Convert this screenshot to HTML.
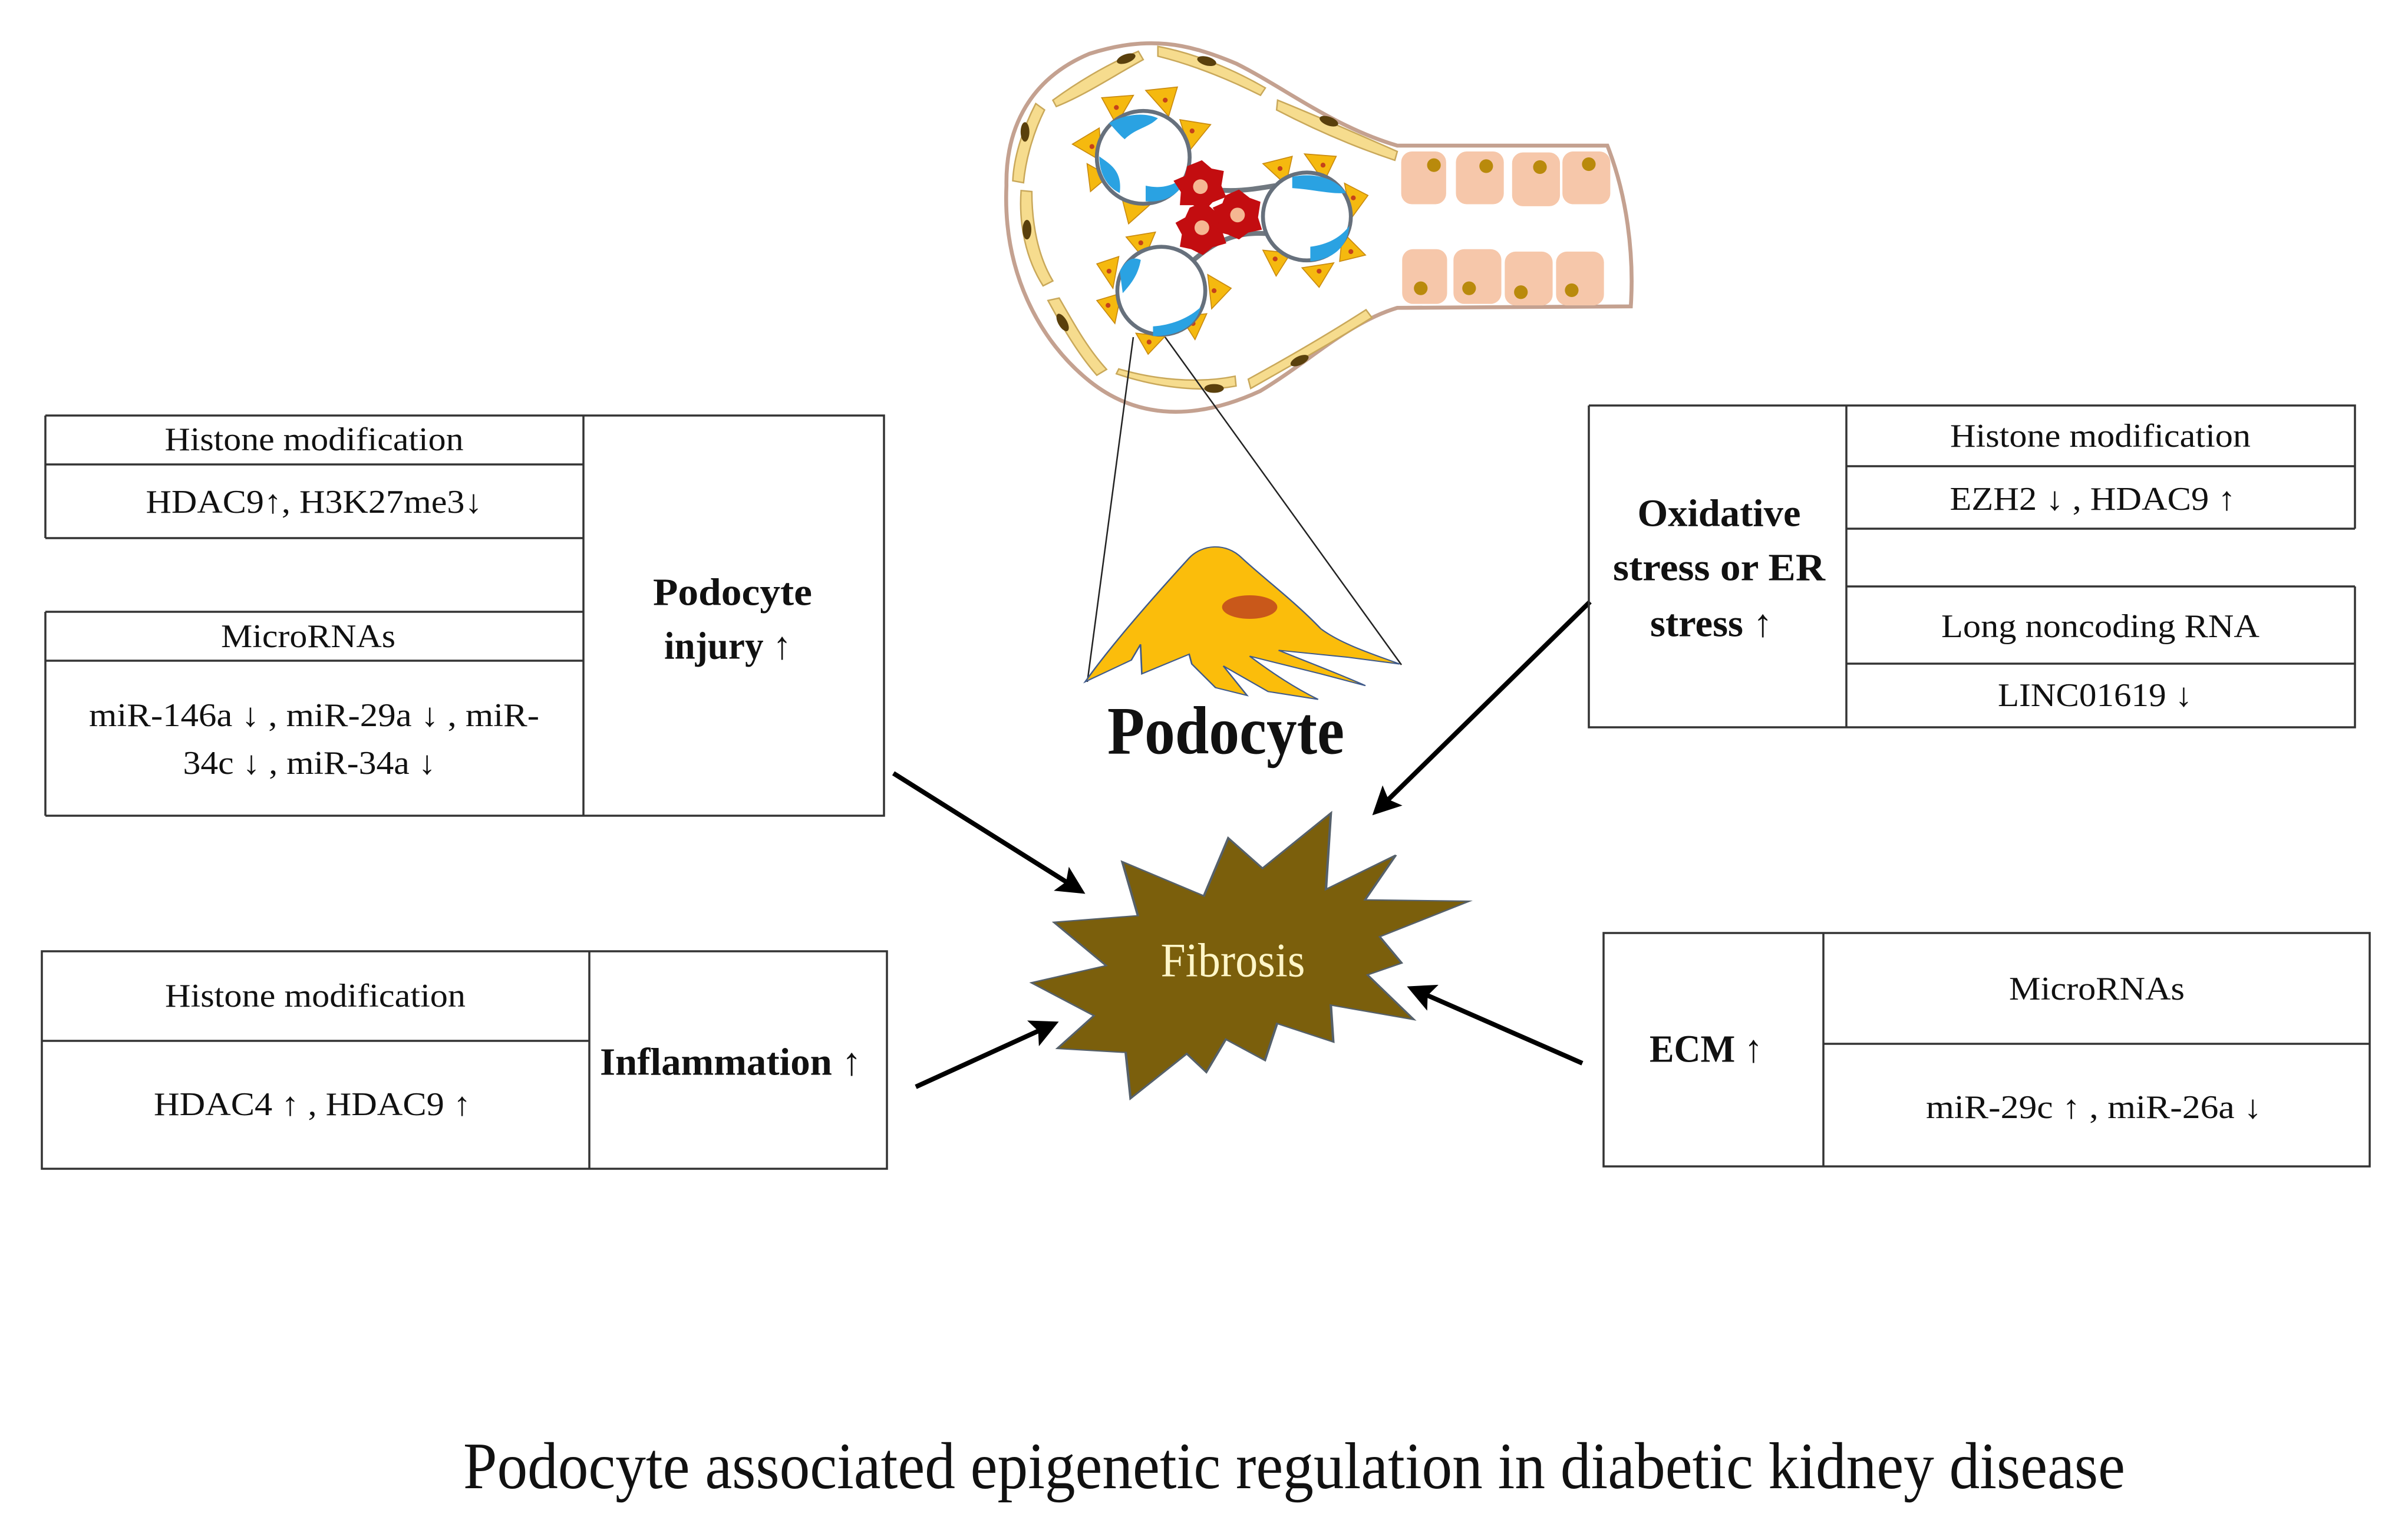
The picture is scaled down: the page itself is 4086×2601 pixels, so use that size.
<!DOCTYPE html>
<html><head><meta charset="utf-8"><style>
html,body{margin:0;padding:0;background:#fff;}
svg{display:block;}
text{font-family:"Liberation Serif","DejaVu Serif",serif;fill:#111;}
.r{font-size:56px;}
.b{font-size:66px;font-weight:bold;}
</style></head><body>
<svg width="4086" height="2601" viewBox="0 0 4086 2601" xmlns="http://www.w3.org/2000/svg">
<defs>
<marker id="ah" markerWidth="6" markerHeight="6" refX="4" refY="3" orient="auto" markerUnits="strokeWidth">
<path d="M0,0 L6,3 L0,6 L1.2,3 Z" fill="#000"/>
</marker>
</defs>
<rect width="4086" height="2601" fill="#fff"/>

<g transform="translate(1600,0) scale(0.829)">
  <path d="M1360,298 L930,298 C800,260 700,180 600,130 C500,88 420,72 300,110 C180,160 128,260 130,380 C122,560 200,700 300,780 C400,860 520,860 650,800 C750,740 830,660 930,630 L1408,627 C1415,520 1400,400 1360,298 Z" fill="#fff" stroke="#c4a190" stroke-width="8"/>
  <g fill="#f6dc8e" stroke="#c9a85a" stroke-width="3">
    <path d="M225,205 C280,165 340,130 400,105 L410,122 C350,155 290,195 232,218 Z"/>
    <path d="M440,95 C520,110 600,145 660,180 L650,195 C590,165 520,135 440,115 Z"/>
    <path d="M685,205 C760,235 850,275 930,310 L925,328 C840,300 760,265 683,225 Z"/>
    <path d="M190,212 C165,260 145,320 143,370 L165,374 C170,320 188,265 208,225 Z"/>
    <path d="M160,390 C155,460 170,530 205,585 L225,575 C195,525 182,460 182,392 Z"/>
    <path d="M215,615 C245,670 275,722 315,768 L335,756 C295,712 268,662 238,610 Z"/>
    <path d="M355,765 C430,790 520,805 600,790 L598,770 C520,786 430,776 360,755 Z"/>
    <path d="M630,795 C700,755 790,705 878,650 L866,634 C782,688 700,735 625,776 Z"/>
  </g>
  <g fill="#5a400c">
    <ellipse cx="375" cy="120" rx="20" ry="9" transform="rotate(-20 375 120)"/>
    <ellipse cx="540" cy="125" rx="20" ry="9" transform="rotate(15 540 125)"/>
    <ellipse cx="790" cy="248" rx="20" ry="9" transform="rotate(20 790 248)"/>
    <ellipse cx="168" cy="270" rx="9" ry="20"/>
    <ellipse cx="172" cy="470" rx="9" ry="20"/>
    <ellipse cx="245" cy="660" rx="9" ry="20" transform="rotate(-30 245 660)"/>
    <ellipse cx="555" cy="795" rx="20" ry="9"/>
    <ellipse cx="730" cy="738" rx="20" ry="9" transform="rotate(-25 730 738)"/>
  </g>
  <g fill="#f6c7aa">
    <rect x="938" y="310" width="92" height="108" rx="22"/>
    <rect x="1050" y="310" width="98" height="108" rx="22"/>
    <rect x="1165" y="312" width="98" height="110" rx="22"/>
    <rect x="1268" y="310" width="98" height="108" rx="22"/>
    <rect x="940" y="510" width="92" height="112" rx="22"/>
    <rect x="1045" y="510" width="98" height="112" rx="22"/>
    <rect x="1150" y="515" width="98" height="110" rx="22"/>
    <rect x="1255" y="515" width="98" height="110" rx="22"/>
  </g>
  <g fill="#b98a0c">
    <circle cx="1005" cy="338" r="14"/><circle cx="1112" cy="340" r="14"/><circle cx="1222" cy="342" r="14"/><circle cx="1322" cy="336" r="14"/>
    <circle cx="978" cy="590" r="14"/><circle cx="1077" cy="590" r="14"/><circle cx="1183" cy="598" r="14"/><circle cx="1287" cy="594" r="14"/>
  </g>
  <g fill="#f5b90f" stroke="#c98a10" stroke-width="2">
    <path d="M325,200 L390,195 L355,255 Z"/><path d="M415,185 L480,178 L462,238 Z"/>
    <path d="M265,295 L320,262 L325,330 Z"/><path d="M485,245 L548,255 L505,308 Z"/>
    <path d="M295,335 L340,360 L302,392 Z"/><path d="M365,400 L425,418 L380,458 Z"/>
    <path d="M655,335 L715,320 L702,378 Z"/><path d="M740,315 L805,320 L780,372 Z"/>
    <path d="M822,375 L870,400 L835,448 Z"/><path d="M818,475 L865,522 L812,535 Z"/>
    <path d="M655,512 L712,518 L682,565 Z"/><path d="M735,548 L800,538 L770,588 Z"/>
    <path d="M375,485 L435,475 L412,530 Z"/><path d="M315,540 L360,525 L348,590 Z"/>
    <path d="M542,562 L590,590 L550,632 Z"/><path d="M315,615 L365,600 L352,662 Z"/>
    <path d="M486,648 L540,642 L516,695 Z"/><path d="M395,682 L455,688 L420,725 Z"/>
  </g>
  <g fill="#c5421a">
    <circle cx="355" cy="220" r="5"/><circle cx="455" cy="205" r="5"/><circle cx="305" cy="300" r="5"/><circle cx="510" cy="268" r="5"/>
    <circle cx="690" cy="345" r="5"/><circle cx="778" cy="338" r="5"/><circle cx="840" cy="405" r="5"/><circle cx="835" cy="515" r="5"/>
    <circle cx="680" cy="530" r="5"/><circle cx="770" cy="555" r="5"/><circle cx="405" cy="497" r="5"/><circle cx="340" cy="555" r="5"/>
    <circle cx="555" cy="595" r="5"/><circle cx="338" cy="625" r="5"/><circle cx="512" cy="662" r="5"/><circle cx="422" cy="700" r="5"/>
  </g>
  <path d="M490,370 C560,400 620,390 680,380 M510,535 C560,490 610,470 680,480" stroke="#707880" stroke-width="10" fill="none"/>
  <g stroke="#66707c" stroke-width="8" fill="#fff">
    <circle cx="410" cy="322" r="95"/>
    <circle cx="745" cy="443" r="90"/>
    <circle cx="447" cy="595" r="90"/>
  </g>
  <g fill="#2aa2e2">
    <path d="M340,252 C375,232 415,230 440,242 C420,262 395,262 372,285 C360,275 350,262 340,252 Z"/>
    <path d="M320,320 C340,335 368,348 362,395 C340,385 320,360 320,320 Z"/>
    <path d="M415,380 C450,388 475,378 498,360 C488,398 455,415 415,412 Z"/>
    <path d="M715,362 C760,352 805,365 825,395 C795,398 760,388 715,385 Z"/>
    <path d="M752,505 C790,500 815,485 832,462 C828,505 800,530 752,535 Z"/>
    <path d="M362,555 C375,530 390,525 405,532 C400,560 388,578 368,600 Z"/>
    <path d="M430,668 C470,665 505,650 528,628 C518,668 482,688 430,688 Z"/>
  </g>
  <g fill="#c30d10">
    <path d="M500,340 L530,328 L550,345 L575,350 L570,380 L580,403 L552,414 L535,432 L512,420 L485,420 L487,393 L472,370 L495,360 Z"/>
    <path d="M505,425 L535,413 L557,432 L577,443 L572,475 L580,498 L552,506 L532,522 L508,510 L485,505 L489,480 L476,456 L496,445 Z"/>
    <path d="M578,400 L606,388 L628,405 L650,413 L645,445 L653,470 L625,476 L606,490 L583,480 L560,474 L566,448 L552,425 L572,416 Z"/>
  </g>
  <g fill="#f5b792"><circle cx="527" cy="382" r="15"/><circle cx="530" cy="466" r="15"/><circle cx="603" cy="440" r="15"/></g>
</g>

<line x1="1923" y1="572" x2="1845" y2="1157" stroke="#222" stroke-width="2.5"/>
<line x1="1977" y1="572" x2="2378" y2="1128" stroke="#222" stroke-width="2.5"/>

<g transform="translate(1750,880) scale(0.4464,0.3333)">
  <path d="M205,830 C300,650 450,420 600,200 C650,130 740,120 800,200 C880,300 1000,420 1100,560 C1180,640 1300,690 1400,740 L1200,705 L940,670 C1050,730 1170,790 1270,850 L1100,790 L830,700 C920,790 1000,860 1090,920 L900,880 L730,750 L820,900 L700,860 L610,740 L600,690 L420,790 L415,640 L380,720 Z" fill="#fbbd0b" stroke="#3f5a8a" stroke-width="6"/>
  <ellipse cx="830" cy="450" rx="105" ry="60" fill="#c9581a"/>
</g>
<text x="2080" y="1240" font-size="115" font-weight="bold" text-anchor="middle" dominant-baseline="central" textLength="402" lengthAdjust="spacingAndGlyphs">Podocyte</text>

<g transform="translate(1450,1250) scale(0.829,0.4464)">
  <path d="M975,290 L965,580 L1108,450 L1045,620 L1258,625 L1075,760 L1120,860 L1050,905 L1145,1075 L975,1020 L980,1160 L865,1090 L840,1230 L760,1150 L720,1275 L680,1205 L565,1375 L555,1200 L415,1185 L490,1060 L362,935 L515,870 L408,705 L580,680 L548,475 L715,605 L765,385 L835,500 Z" fill="#7b5f0c" stroke="#55606a" stroke-width="5"/>
</g>
<text x="2092" y="1629" font-size="82" text-anchor="middle" dominant-baseline="central" style="fill:#fff6c8" textLength="245" lengthAdjust="spacingAndGlyphs">Fibrosis</text>

<g stroke="#000" stroke-width="8" fill="none" marker-end="url(#ah)">
  <line x1="1516" y1="1312" x2="1828" y2="1508"/>
  <line x1="2698" y1="1021" x2="2340" y2="1372"/>
  <line x1="1554" y1="1844" x2="1782" y2="1740"/>
  <line x1="2685" y1="1804" x2="2402" y2="1680"/>
</g>

<g stroke="#333" stroke-width="3.5" fill="none">
  <path d="M77,705 H1500 V1384 H77 M990,705 V1384 M77,705 V913 M77,788 H990 M77,913 H990 M77,1038 H990 M77,1121 H990 M77,1038 V1384"/>
</g>
<g class="r" text-anchor="middle" dominant-baseline="central">
  <text x="533" y="746" class="r" textLength="507" lengthAdjust="spacingAndGlyphs">Histone modification</text>
  <text x="533" y="852" class="r" textLength="571" lengthAdjust="spacingAndGlyphs">HDAC9↑, H3K27me3↓</text>
  <text x="523" y="1080" class="r" textLength="296" lengthAdjust="spacingAndGlyphs">MicroRNAs</text>
  <text x="533" y="1214" class="r" textLength="764" lengthAdjust="spacingAndGlyphs">miR-146a ↓ , miR-29a ↓ , miR-</text>
  <text x="525" y="1295" class="r" textLength="429" lengthAdjust="spacingAndGlyphs">34c ↓ , miR-34a ↓</text>
</g>
<text x="1243" y="1005" class="b" text-anchor="middle" dominant-baseline="central" textLength="270" lengthAdjust="spacingAndGlyphs">Podocyte</text>
<text x="1235" y="1096" class="b" text-anchor="middle" dominant-baseline="central" textLength="216" lengthAdjust="spacingAndGlyphs">injury ↑</text>

<g stroke="#333" stroke-width="3.5" fill="none">
  <path d="M71,1614 H1505 V1983 H71 Z M1000,1614 V1983 M71,1766 H1000"/>
</g>
<text x="535" y="1690" class="r" text-anchor="middle" dominant-baseline="central" textLength="510" lengthAdjust="spacingAndGlyphs">Histone modification</text>
<text x="530" y="1874" class="r" text-anchor="middle" dominant-baseline="central" textLength="538" lengthAdjust="spacingAndGlyphs">HDAC4 ↑ , HDAC9 ↑</text>
<text x="1240" y="1802" class="b" text-anchor="middle" dominant-baseline="central" textLength="444" lengthAdjust="spacingAndGlyphs">Inflammation ↑</text>

<g stroke="#333" stroke-width="3.5" fill="none">
  <path d="M2696,688 H3996 V897 M2696,688 V1234 H3996 V995 M3133,688 V1234 M3133,791 H3996 M3133,897 H3996 M3133,995 H3996 M3133,1126 H3996"/>
</g>
<text x="2917" y="871" class="b" text-anchor="middle" dominant-baseline="central" textLength="277" lengthAdjust="spacingAndGlyphs">Oxidative</text>
<text x="2917" y="963" class="b" text-anchor="middle" dominant-baseline="central" textLength="360" lengthAdjust="spacingAndGlyphs">stress or ER</text>
<text x="2904" y="1058" class="b" text-anchor="middle" dominant-baseline="central" textLength="208" lengthAdjust="spacingAndGlyphs">stress ↑</text>
<text x="3564" y="740" class="r" text-anchor="middle" dominant-baseline="central" textLength="510" lengthAdjust="spacingAndGlyphs">Histone modification</text>
<text x="3551" y="847" class="r" text-anchor="middle" dominant-baseline="central" textLength="485" lengthAdjust="spacingAndGlyphs">EZH2 ↓ , HDAC9 ↑</text>
<text x="3564" y="1063" class="r" text-anchor="middle" dominant-baseline="central" textLength="540" lengthAdjust="spacingAndGlyphs">Long noncoding RNA</text>
<text x="3555" y="1180" class="r" text-anchor="middle" dominant-baseline="central" textLength="330" lengthAdjust="spacingAndGlyphs">LINC01619 ↓</text>

<g stroke="#333" stroke-width="3.5" fill="none">
  <path d="M2721,1583 H4021 V1979 H2721 Z M3094,1583 V1979 M3094,1771 H4021"/>
</g>
<text x="2895" y="1780" class="b" text-anchor="middle" dominant-baseline="central" textLength="192" lengthAdjust="spacingAndGlyphs">ECM ↑</text>
<text x="3558" y="1678" class="r" text-anchor="middle" dominant-baseline="central" textLength="298" lengthAdjust="spacingAndGlyphs">MicroRNAs</text>
<text x="3553" y="1879" class="r" text-anchor="middle" dominant-baseline="central" textLength="570" lengthAdjust="spacingAndGlyphs">miR-29c ↑ ,  miR-26a ↓</text>

<text x="2196" y="2488" font-size="112" text-anchor="middle" dominant-baseline="central" textLength="2820" lengthAdjust="spacingAndGlyphs">Podocyte associated epigenetic regulation in diabetic kidney disease</text>
</svg>
</body></html>
